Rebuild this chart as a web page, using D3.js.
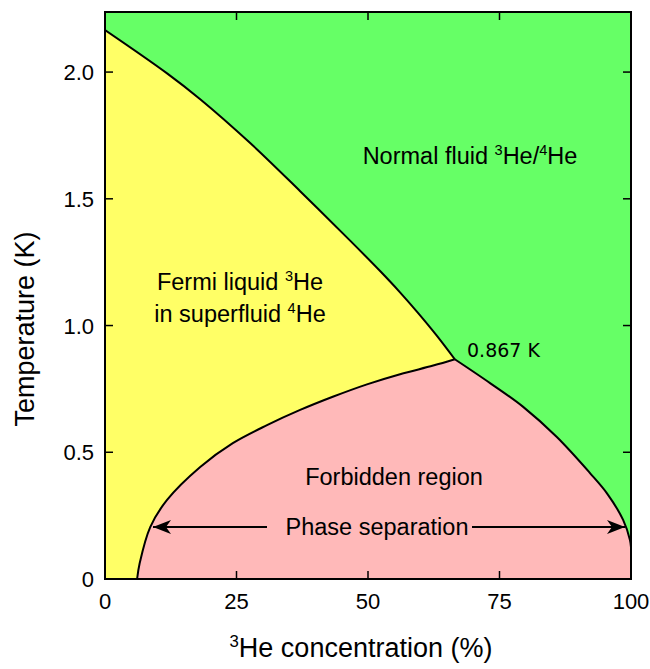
<!DOCTYPE html>
<html><head><meta charset="utf-8">
<script src="https://cdn.jsdelivr.net/npm/d3@7"></script>
<style>body{margin:0;background:#fff}svg{display:block}</style>
</head><body><svg id="c" width="650" height="669"></svg>
<script>
// ---- data (x = 3He concentration %, T = temperature K) ----
const lambdaX = [0, 11.8, 18.1, 27.6, 37.1, 46.6, 52.3, 56.0, 59.5, 63.0, 66.5];
const lambdaT = [2.166, 1.995, 1.893, 1.720, 1.530, 1.335, 1.215, 1.133, 1.050, 0.962, 0.867];
const leftX = [6.1, 6.6, 8.6, 11.8, 18.1, 24.3, 30.8, 37.1, 43.3, 49.8, 56.1, 62.4, 66.5];
const leftT = [0, 0.063, 0.205, 0.312, 0.442, 0.536, 0.607, 0.667, 0.719, 0.768, 0.808, 0.842, 0.867];
const rightX = [66.5, 73.2, 79.5, 85.9, 92.2, 95.4, 98.5, 99.8, 100];
const rightT = [0.867, 0.773, 0.679, 0.560, 0.418, 0.339, 0.233, 0.154, 0.126];
const xTicks = [0, 25, 50, 75, 100];
const yTicks = [0, 0.5, 1.0, 1.5, 2.0];
const yTickLabels = ["0", "0.5", "1.0", "1.5", "2.0"];
const tricriticalLabel = "0.867 K";
const arrowT = 0.205;

const svg = d3.select("#c");
const L = 105, R = 631, T = 12, B = 579;
const x = d3.scaleLinear().domain([0, 100]).range([L, R]);
const y = d3.scaleLinear().domain([0, 2.237]).range([B, T]);
const font = "'Liberation Sans', Arial, sans-serif";

const zip = (a, b) => a.map((v, i) => [v, b[i]]);
const lam = zip(lambdaX, lambdaT), left = zip(leftX, leftT), right = zip(rightX, rightT);

const line = d3.line().x(d => x(d[0])).y(d => y(d[1])).curve(d3.curveCatmullRom.alpha(0.5));
svg.append("clipPath").attr("id", "pc").append("rect")
  .attr("x", L).attr("y", T).attr("width", R - L).attr("height", B - T);
const g = svg.append("g").attr("clip-path", "url(#pc)");

// green background
g.append("rect").attr("x", L).attr("y", T).attr("width", R - L).attr("height", B - T).attr("fill", "#66ff66");

// yellow region: lambda line + left branch
g.append("path")
  .attr("d", line(lam) + "L" + line(left.slice().reverse()).slice(1) + "L" + x(0) + "," + y(0) + "Z")
  .attr("fill", "#ffff66");

// pink region
g.append("path")
  .attr("d", line(left) + "L" + line(right).slice(1) + "L" + x(100) + "," + y(0) + "Z")
  .attr("fill", "#ffb9b9");

// curves
[lam, left, right].forEach(d => g.append("path").attr("d", line(d))
  .attr("fill", "none").attr("stroke", "#000").attr("stroke-width", 2).attr("stroke-linejoin", "round"));

// frame
svg.append("rect").attr("x", L).attr("y", T).attr("width", R - L).attr("height", B - T)
  .attr("fill", "none").attr("stroke", "#000").attr("stroke-width", 2);

// axes (inward ticks)
const ax = svg.append("g").attr("stroke", "#000").attr("stroke-width", 1.5);
xTicks.slice(1, -1).forEach(v => {
  ax.append("line").attr("x1", x(v)).attr("x2", x(v)).attr("y1", B).attr("y2", B - 8);
  ax.append("line").attr("x1", x(v)).attr("x2", x(v)).attr("y1", T).attr("y2", T + 8);
});
yTicks.slice(1).forEach(v => {
  ax.append("line").attr("y1", y(v)).attr("y2", y(v)).attr("x1", L).attr("x2", L + 8);
  ax.append("line").attr("y1", y(v)).attr("y2", y(v)).attr("x1", R).attr("x2", R - 8);
});
svg.append("g").selectAll("text").data(xTicks).join("text")
  .attr("x", d => x(d)).attr("y", B + 30).attr("text-anchor", "middle")
  .attr("font-family", font).attr("font-size", 22).text(d => d);
svg.append("g").selectAll("text").data(yTicks).join("text")
  .attr("x", L - 11).attr("y", d => y(d) + 8).attr("text-anchor", "end")
  .attr("font-family", font).attr("font-size", 22).text((d, i) => yTickLabels[i]);

// text with superscripts
function supText(sel, parts, size) {
  parts.forEach(p => {
    if (p.sup) sel.append("tspan").attr("font-size", size * 0.62).attr("dy", -size * 0.38).text(p.t);
    else sel.append("tspan").attr("font-size", size).attr("dy", p.after ? size * 0.38 : 0).text(p.t);
  });
}
// axis titles
const xt = svg.append("text").attr("x", 361).attr("y", 657).attr("text-anchor", "middle")
  .attr("font-family", font).attr("font-size", 27);
supText(xt, [{t: "3", sup: true}, {t: "He concentration (%)", after: true}], 27);
svg.append("text").attr("transform", "translate(34,329) rotate(-90)").attr("text-anchor", "middle")
  .attr("font-family", font).attr("font-size", 27).text("Temperature (K)");

// region labels
const LS = 23.5;
const nf = svg.append("text").attr("x", 470).attr("y", 164).attr("text-anchor", "middle")
  .attr("font-family", font).attr("font-size", LS);
supText(nf, [{t: "Normal fluid "}, {t: "3", sup: true}, {t: "He/", after: true}, {t: "4", sup: true}, {t: "He", after: true}], LS);
const f1 = svg.append("text").attr("x", 240).attr("y", 290).attr("text-anchor", "middle")
  .attr("font-family", font).attr("font-size", LS);
supText(f1, [{t: "Fermi liquid "}, {t: "3", sup: true}, {t: "He", after: true}], LS);
const f2 = svg.append("text").attr("x", 240).attr("y", 322).attr("text-anchor", "middle")
  .attr("font-family", font).attr("font-size", LS);
supText(f2, [{t: "in superfluid "}, {t: "4", sup: true}, {t: "He", after: true}], LS);
svg.append("text").attr("x", 394).attr("y", 485).attr("text-anchor", "middle")
  .attr("font-family", font).attr("font-size", LS).text("Forbidden region");
svg.append("text").attr("x", 377).attr("y", 535).attr("text-anchor", "middle")
  .attr("font-family", font).attr("font-size", LS).text("Phase separation");
svg.append("text").attr("x", 467).attr("y", 357)
  .attr("font-family", "'DejaVu Sans', sans-serif").attr("font-size", 19).text(tricriticalLabel);

// arrows
const defs = svg.append("defs");
defs.append("marker").attr("id", "ah").attr("viewBox", "0 0 18 14").attr("refX", 18).attr("refY", 7)
  .attr("markerWidth", 18).attr("markerHeight", 14).attr("markerUnits", "userSpaceOnUse")
  .attr("orient", "auto")
  .append("path").attr("d", "M0,0 L18,7 L0,14 L5,7 Z").attr("fill", "#000");
const ay = y(arrowT);
svg.append("line").attr("x1", 267).attr("x2", 153).attr("y1", ay).attr("y2", ay)
  .attr("stroke", "#000").attr("stroke-width", 2).attr("marker-end", "url(#ah)");
svg.append("line").attr("x1", 472).attr("x2", 625).attr("y1", ay).attr("y2", ay)
  .attr("stroke", "#000").attr("stroke-width", 2).attr("marker-end", "url(#ah)");
</script></body></html>
